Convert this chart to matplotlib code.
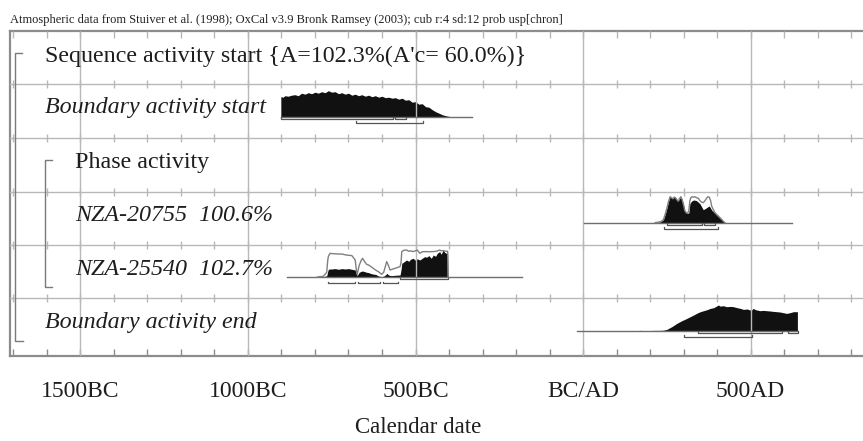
import matplotlib
matplotlib.use("Agg")
import matplotlib.pyplot as plt

# ---------------- data (calendar years, negative = BC) ----------------
tick_years = [-1500, -1000, -500, 0, 500]
tick_labels = ["1500BC", "1000BC", "500BC", "BC/AD", "500AD"]
minor_years = list(range(-1700, 900, 100))

row_labels = [
    "Sequence activity start {A=102.3%(A'c= 60.0%)}",
    "Boundary activity start",
    "Phase activity",
    "NZA-20755  100.6%",
    "NZA-25540  102.7%",
    "Boundary activity end",
]
row_italic = [False, True, False, True, True, True]

# Boundary activity start (posterior)
bstart_x = [-902, -895, -890, -880, -870, -860, -850, -840, -830, -820, -810, -800,
            -790, -780, -770, -760, -750, -740, -730, -720, -710, -700, -690, -680,
            -670, -660, -650, -640, -630, -620, -610, -600, -590, -580, -570, -560,
            -550, -540, -530, -520, -510, -500, -490, -480, -470, -460, -450, -440,
            -430, -420, -410, -400, -395]
bstart_y = [20, 19.5, 21, 20.5, 21.5, 22, 21, 23.5, 22.5, 24, 23, 24.5,
            23.5, 25, 24, 26, 24.5, 25, 23, 24, 22.5, 23.5, 21.5, 22.5,
            21, 22, 20.5, 21.5, 20, 21, 19.5, 20.5, 19, 19.5, 18.5, 19,
            17.5, 18.5, 16.5, 17, 14.5, 15, 12.5, 13, 10, 9.5, 7, 5,
            3.5, 2, 1, 0.3, 0]
bstart_line = [-902, -332]
bstart_r_upper = [(-902, -568), (-561, -528)]
bstart_r_lower = [(-677, -477)]

# NZA-20755 (posterior filled, likelihood outline)
n1_x = [215, 232, 240, 245, 250, 255, 260, 264, 268, 272, 276, 280, 284, 288, 292, 296,
        300, 304, 308, 312, 316, 319, 322, 326, 330, 334, 339, 344, 349, 354, 359, 364,
        369, 373, 377, 381, 384, 389, 394, 399, 404, 409, 414, 419, 424]
n1_post = [0, 1, 3, 8, 14, 21, 26, 25, 24, 25.5, 25, 23, 21.5, 24, 26, 23,
           18, 12, 10, 9.3, 10, 19, 20.7, 22, 22.7, 22.5, 22, 20.5, 19, 16, 13, 14,
           15, 16, 16.7, 14.5, 12.7, 11, 9.3, 7.5, 6, 4.3, 2.7, 1.3, 0]
n1_prior = [0, 1, 3, 8, 14, 21, 26, 25, 24, 25.5, 25, 23, 21.5, 24, 26, 23,
            18, 12, 10, 9.3, 12, 22, 25, 26, 25.5, 26, 25, 24.5, 22, 20.5, 20, 22,
            24.5, 26, 25.5, 22, 16.7, 13, 10, 8.3, 6.7, 5, 3.3, 1.3, 0]
n1_line = [3, 623]
n1_r_upper = [(250, 354), (361, 394)]
n1_r_lower = [(243, 404)]

# NZA-25540 (posterior filled, likelihood outline)
n2_x = [-795, -790, -775, -765, -762, -760, -755, -750, -740, -730, -720, -710, -700,
        -690, -680, -676, -674, -668, -662, -658, -652, -646, -640, -633, -626, -618,
        -611, -601, -595, -589, -586, -581, -576, -570, -561, -552, -546, -543, -541,
        -535, -527, -520, -515, -507, -500, -495, -487, -480, -472, -467, -460, -453,
        -447, -440, -435, -428, -423, -418, -413, -408, -404, -403]
n2_post = [0, 0.3, 0.7, 1.5, 6, 8, 8.3, 8.3, 8.7, 8, 8.7, 8.3, 8.7,
           8, 7.3, 3, 1.7, 5, 6, 6.3, 5.7, 5, 4.7, 3.7, 3.2, 2.8,
           1.3, 0.7, 1.2, 2.5, 4, 2.5, 1.8, 1.7, 2, 2.2, 2.3, 8, 14,
           15.3, 17.3, 16, 18, 19, 17, 18.5, 17.3, 19, 20.7, 20, 21.7, 19,
           22.3, 21, 24, 25.7, 23, 27.3, 25, 24, 24, 0]
n2_prior = [0, 0.5, 1, 5, 17, 21, 24, 23.7, 23.5, 23.3, 23.3, 22.5, 22,
            21.7, 17.3, 6, 3, 12, 17, 19, 15.7, 13, 12.3, 10.7, 9, 7,
            5.7, 3, 5, 12, 15.7, 12, 7.3, 8, 9, 10, 10.7, 15, 25.7,
            27, 27.3, 26, 26.5, 25.7, 26.5, 27.3, 24, 25.5, 25.7, 25.7, 25.5, 25.7,
            25.7, 26, 26.3, 27.3, 26.5, 26.7, 26.3, 26, 26, 0]
n2_line = [-885, -182]
n2_r_upper = [(-546, -403)]
n2_r_lower = [(-760, -680), (-673, -607), (-597, -551)]

# Boundary activity end (posterior)
bend_x = [140, 150, 170, 190, 210, 225, 240, 250, 265, 280, 295, 310, 320, 330, 340,
          350, 360, 370, 380, 390, 398, 404, 410, 418, 429, 440, 449, 460, 470, 479,
          490, 498, 503, 508, 515, 528, 538, 548, 558, 568, 578, 588, 598, 608, 618,
          628, 640]
bend_y = [0.3, 0, 0.3, 0, 0.3, 0.3, 0.5, 1.3, 4, 7.3, 10, 12.3, 14, 15.7, 17.5,
          19, 20, 21, 22.3, 23, 24.5, 25.7, 24.5, 25, 24, 24.3, 24, 23, 22.3, 21.3,
          21.7, 20.7, 20.7, 22.3, 21, 20, 20.3, 20, 19.7, 19.3, 19, 18.7, 18, 17.3, 18,
          19, 19]
bend_line = [-19, 640]
bend_r_upper = [(344, 593), (613, 643)]
bend_r_lower = [(301, 503)]

# ---------------- layout ----------------
W, H = 863, 441
fig = plt.figure(figsize=(W / 100, H / 100), dpi=100)
X0_PX, PX_PER_YR = 583.0, 0.335


def yr(px):
    return (px - X0_PX) / PX_PER_YR


left_px, right_px, top_px, bot_px = 10, 863, 31, 356
ax = fig.add_axes([left_px / W, 1 - bot_px / H, (right_px - left_px) / W,
                   (bot_px - top_px) / H])
ax.set_xlim(yr(left_px), yr(right_px))
ax.set_ylim(bot_px, top_px)
ax.axis("off")

FONT = "Liberation Serif"
GRID = "#b8b8b8"
FRAME = "#8c8c8c"
TXT = "#1e1e1e"
row_tops = [31, 84, 138, 192, 245, 298]
xl, xr = yr(left_px), yr(right_px)

# frame
ax.plot([xl, xr], [top_px, top_px], color=FRAME, lw=1.6, clip_on=False)
ax.plot([xl, xr], [bot_px, bot_px], color=FRAME, lw=1.6, clip_on=False)
ax.plot([xl, xl], [top_px, bot_px], color=FRAME, lw=1.6, clip_on=False)
# horizontal gridlines
for t in row_tops[1:]:
    ax.plot([xl, xr], [t, t], color=GRID, lw=1.0, clip_on=False)
    ax.vlines(minor_years, t - 4, t + 3.5, color=GRID, lw=1.0)
ax.vlines(minor_years, top_px, top_px + 7, color=GRID, lw=1.0)
ax.vlines(minor_years, bot_px - 7, bot_px, color=FRAME, lw=1.0)
# major vertical gridlines
ax.vlines(tick_years, top_px, bot_px, color=GRID, lw=1.0)

# brackets
BR = "#7a7a7a"
ax.plot([yr(22), yr(15), yr(15), yr(23)], [53, 53, 341, 341], color=BR, lw=1.0)
ax.plot([yr(52), yr(45), yr(45), yr(52)], [160, 160, 287, 287], color=BR, lw=1.0)

# labels
baselines = [62, 113, 168, 221, 275, 328]
label_px = [45, 45, 75, 75, 75, 45]
for lab, it, bl, lp in zip(row_labels, row_italic, baselines, label_px):
    ax.text(yr(lp), bl, lab, family=FONT, style="italic" if it else "normal",
            fontsize=17.3, va="baseline", ha="left", color=TXT)

# header
ax.text(xl, 23, "Atmospheric data from Stuiver et al. (1998); OxCal v3.9 Bronk Ramsey "
        "(2003); cub r:4 sd:12 prob usp[chron]", family=FONT, fontsize=9.0,
        va="baseline", ha="left", color="#222222")

# tick labels and axis title
for ty, tl in zip(tick_years, tick_labels):
    ax.text(ty, 397, tl, family=FONT, fontsize=17, ha="center", va="baseline",
            color=TXT)
ax.text(yr(418), 433, "Calendar date", family=FONT, fontsize=16.5, ha="center",
        va="baseline", color=TXT)


def draw_dist(base, xs, post, line, r_up, r_low, prior=None):
    ax.plot(line, [base, base], color="#6e6e6e", lw=1.0)
    ax.fill_between(xs, [base] * len(xs), [base - v for v in post],
                    color="#111111", lw=0)
    if prior is not None:
        ax.plot(xs, [base - v for v in prior], color="#808080", lw=1.0)
    for off, rngs in ((2.0, r_up), (6.0, r_low)):
        y = base + off
        for a, b in rngs:
            ax.plot([a, a, b, b], [y - 1.8, y, y, y - 1.8], color="#555555", lw=0.9)


draw_dist(116.7, bstart_x, bstart_y, bstart_line, bstart_r_upper, bstart_r_lower)
draw_dist(222.7, n1_x, n1_post, n1_line, n1_r_upper, n1_r_lower, n1_prior)
draw_dist(277.3, n2_x, n2_post, n2_line, n2_r_upper, n2_r_lower, n2_prior)
draw_dist(330.7, bend_x, bend_y, bend_line, bend_r_upper, bend_r_lower)

fig.savefig("out.png", dpi=100, facecolor="white")
